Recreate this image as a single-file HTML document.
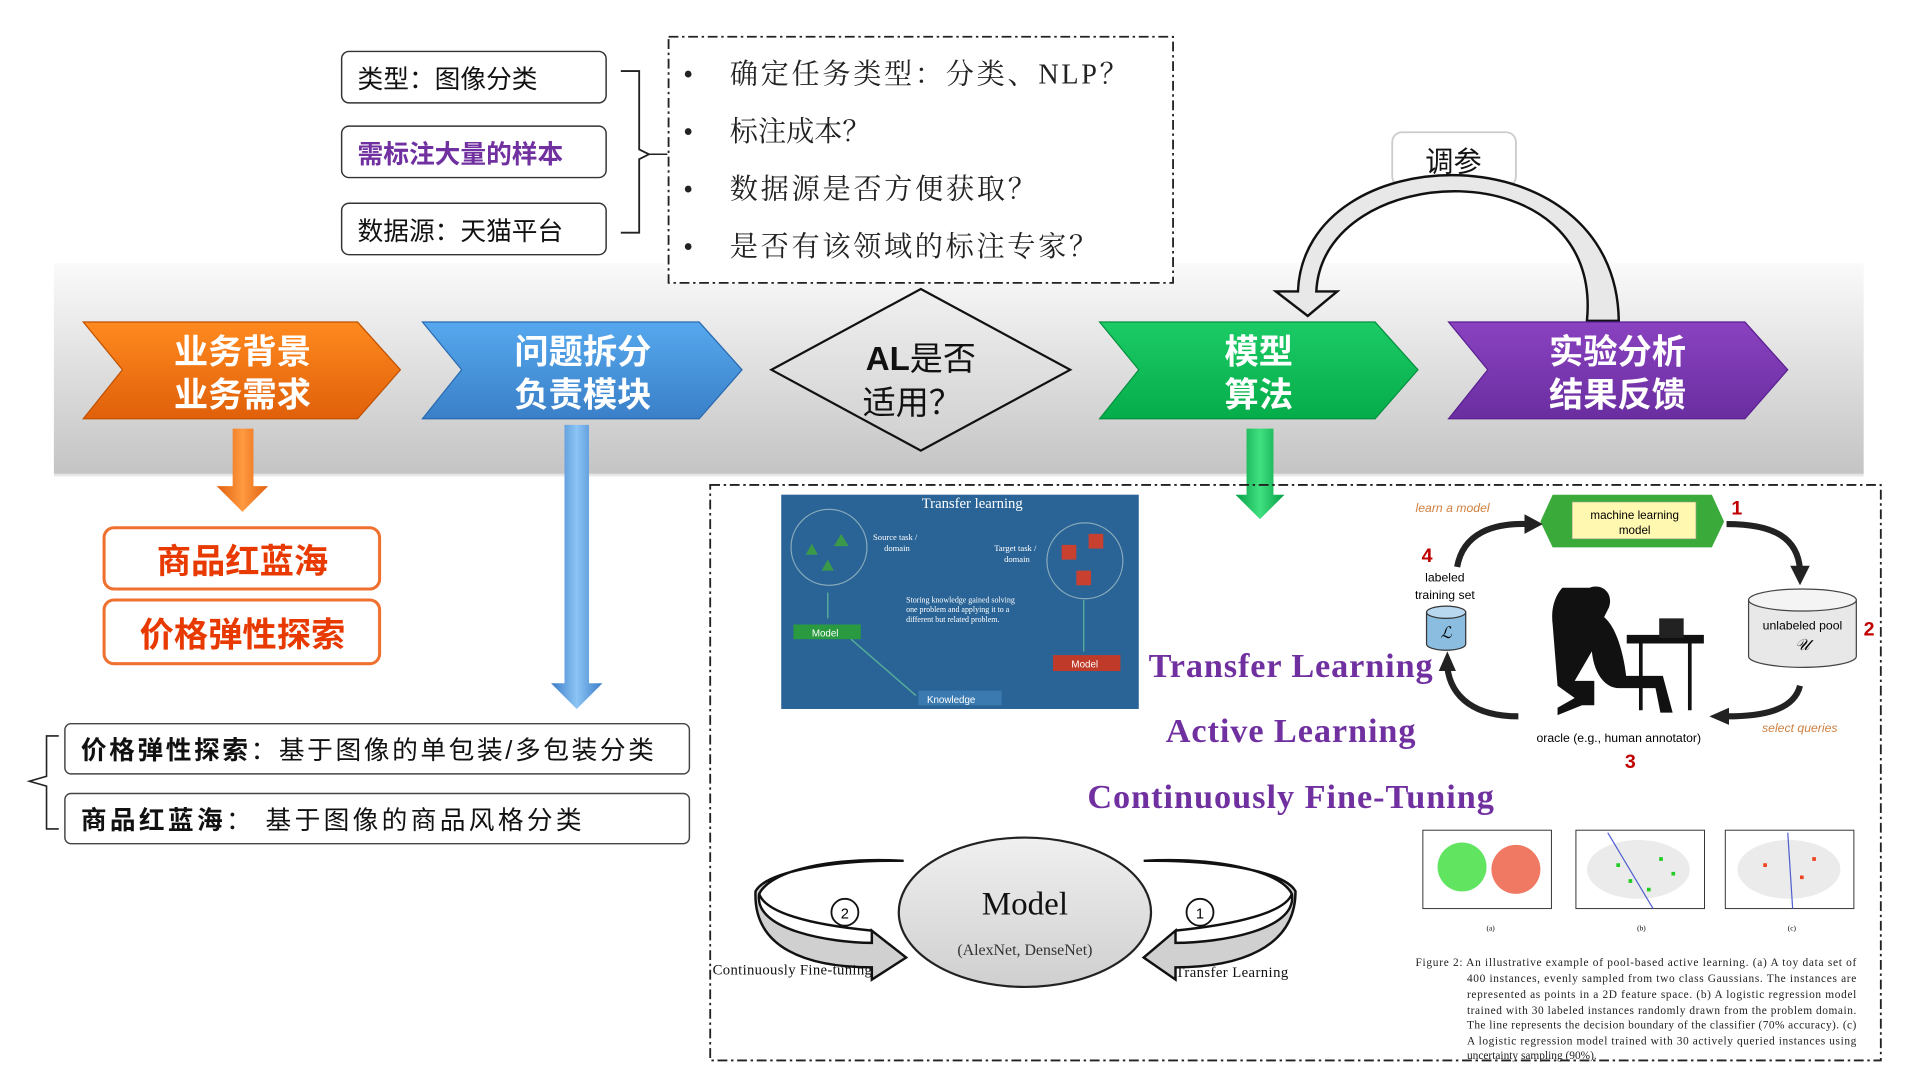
<!DOCTYPE html>
<html><head><meta charset="utf-8"><style>html,body{margin:0;padding:0;background:#fff;width:1920px;height:1080px;overflow:hidden}
svg{display:block}
.cn{font-family:"Liberation Sans","Noto Sans CJK SC",sans-serif}
.sr{font-family:"Liberation Serif","Noto Serif CJK SC",serif}
</style></head><body>
<svg width="1920" height="1080" viewBox="0 0 1568 882" preserveAspectRatio="none" xmlns="http://www.w3.org/2000/svg">
<defs>
<linearGradient id="band" x1="0" y1="0" x2="0" y2="1"><stop offset="0" stop-color="#fafafa"/><stop offset="1" stop-color="#c4c4c4"/></linearGradient>
<linearGradient id="or" x1="0" y1="0" x2="0" y2="1"><stop offset="0" stop-color="#ff8a1f"/><stop offset="1" stop-color="#e0600a"/></linearGradient>
<linearGradient id="bl" x1="0" y1="0" x2="0" y2="1"><stop offset="0" stop-color="#56a8ee"/><stop offset="1" stop-color="#3a80c8"/></linearGradient>
<linearGradient id="gr" x1="0" y1="0" x2="0" y2="1"><stop offset="0" stop-color="#1ccb66"/><stop offset="1" stop-color="#05ad4a"/></linearGradient>
<linearGradient id="pu" x1="0" y1="0" x2="0" y2="1"><stop offset="0" stop-color="#8a42c0"/><stop offset="1" stop-color="#6a2ea0"/></linearGradient>
<linearGradient id="dm" x1="0" y1="0" x2="0" y2="1"><stop offset="0" stop-color="#f0f0f0"/><stop offset="1" stop-color="#cfcfcf"/></linearGradient>
<linearGradient id="bar" x1="0" y1="0" x2="1" y2="0"><stop offset="0" stop-color="#3a7cc8"/><stop offset=".5" stop-color="#8cc4f4"/><stop offset="1" stop-color="#3a7cc8"/></linearGradient>
<linearGradient id="ob" x1="0" y1="0" x2="1" y2="0"><stop offset="0" stop-color="#e06010"/><stop offset=".5" stop-color="#ff9a40"/><stop offset="1" stop-color="#e06010"/></linearGradient>
<linearGradient id="gb" x1="0" y1="0" x2="1" y2="0"><stop offset="0" stop-color="#05a045"/><stop offset=".5" stop-color="#40e080"/><stop offset="1" stop-color="#05a045"/></linearGradient>
</defs>
<rect width="1568" height="882" fill="#fff"/>
<rect x="44" y="215" width="1478" height="172" fill="url(#band)"/>
<line x1="44" y1="388" x2="1522" y2="388" stroke="#e6e6e6" stroke-width="2"/>
<g class="cn" font-size="21">
<rect x="279" y="42" width="216" height="42" rx="6" fill="#fff" stroke="#333" stroke-width="1.2"/>
<text x="292" y="72" fill="#111">类型：图像分类</text>
<rect x="279" y="103" width="216" height="42" rx="6" fill="#fff" stroke="#333" stroke-width="1.2"/>
<text x="292" y="133" fill="#7030a0" font-weight="bold">需标注大量的样本</text>
<rect x="279" y="166" width="216" height="42" rx="6" fill="#fff" stroke="#333" stroke-width="1.2"/>
<text x="292" y="196" fill="#111">数据源：天猫平台</text>
</g>
<path d="M507 58 H522 V122 L530 126 L522 130 V190 H507" fill="none" stroke="#222" stroke-width="1.5"/>
<path d="M530 126 H545" stroke="#222" stroke-width="1.2"/>
<rect x="546" y="30" width="412" height="201" fill="#fff" stroke="#222" stroke-width="1.5" stroke-dasharray="8,3,2,3"/>
<g class="sr" font-size="23" fill="#222">
<text x="558" y="68">•</text><text x="596" y="68" textLength="325">确定任务类型：分类、NLP？</text>
<text x="558" y="115">•</text><text x="596" y="115">标注成本？</text>
<text x="558" y="162">•</text><text x="596" y="162" textLength="250">数据源是否方便获取？</text>
<text x="558" y="209">•</text><text x="596" y="209" textLength="300">是否有该领域的标注专家？</text>
</g>
<rect x="1137" y="108" width="101" height="44" rx="8" fill="#fff" stroke="#ccc" stroke-width="1.5"/>
<text class="cn" x="1187" y="140" font-size="23" text-anchor="middle" fill="#111">调参</text>
<path d="M1296 262 C1310 120 1080 130 1075 238 L1092 238 L1068 258 L1042 238 L1060 238 C1065 110 1320 105 1322 262 Z" fill="#e8e8e8" stroke="#111" stroke-width="2"/>
<g stroke-width="1">
<path d="M68 263 H292 L327 302 L292 342 H68 L100 302 Z" fill="url(#or)" stroke="#c05000"/>
<path d="M345 263 H571 L606 302 L571 342 H345 L377 302 Z" fill="url(#bl)" stroke="#2a6ab0"/>
<path d="M752 236 L874 302 L752 368 L630 302 Z" fill="url(#dm)" stroke="#111" stroke-width="1.8"/>
<path d="M898 263 H1123 L1158 302 L1123 342 H898 L930 302 Z" fill="url(#gr)" stroke="#059040"/>
<path d="M1183 263 H1425 L1460 302 L1425 342 H1183 L1215 302 Z" fill="url(#pu)" stroke="#5a2090"/>
</g>
<g class="cn" font-weight="bold" font-size="28" fill="#fff" text-anchor="middle">
<text x="198" y="297">业务背景</text><text x="198" y="332">业务需求</text>
<text x="476" y="297">问题拆分</text><text x="476" y="332">负责模块</text>
<text x="1028" y="297">模型</text><text x="1028" y="332">算法</text>
<text x="1321" y="297">实验分析</text><text x="1321" y="332">结果反馈</text>
</g>
<text class="cn" x="752" y="302" font-size="27" text-anchor="middle" fill="#111"><tspan font-weight="bold">AL</tspan>是否</text>
<text class="cn" x="745" y="338" font-size="27" text-anchor="middle" fill="#111">适用？</text>
<path d="M190 350 H207 V397 H219 L198 418 L177 397 H190 Z" fill="url(#ob)"/>
<path d="M461 347 H481 V558 H492 L471 579 L450 558 H461 Z" fill="url(#bar)"/>
<path d="M1018 350 H1040 V404 H1049 L1029 424 L1009 404 H1018 Z" fill="url(#gb)"/>
<g class="cn" font-weight="bold" font-size="28" fill="#e83a00" text-anchor="middle">
<rect x="85" y="431" width="225" height="50" rx="8" fill="#fff" stroke="#f07030" stroke-width="2.5"/>
<text x="198" y="468">商品红蓝海</text>
<rect x="85" y="490" width="225" height="52" rx="8" fill="#fff" stroke="#f07030" stroke-width="2.5"/>
<text x="198" y="528">价格弹性探索</text>
</g>
<path d="M48 601 H38 V634 L24 638 L38 642 V677 H48" fill="none" stroke="#222" stroke-width="1.3"/>
<rect x="53" y="591" width="510" height="41" rx="5" fill="#fff" stroke="#444" stroke-width="1.2"/>
<rect x="53" y="648" width="510" height="41" rx="5" fill="#fff" stroke="#444" stroke-width="1.2"/>
<g class="cn" font-size="21" fill="#111">
<text x="66" y="620" textLength="468"><tspan font-weight="bold">价格弹性探索</tspan>：基于图像的单包装/多包装分类</text>
<text x="66" y="677" textLength="409"><tspan font-weight="bold">商品红蓝海</tspan>：   基于图像的商品风格分类</text>
</g>
<rect x="580" y="396" width="956" height="470" fill="none" stroke="#222" stroke-width="1.5" stroke-dasharray="8,3,2,3"/>
<rect x="638" y="404" width="292" height="175" fill="#2a6496"/>
<g font-family="Liberation Serif,serif" fill="#fff">
<text x="794" y="415" font-size="12" text-anchor="middle">Transfer learning</text>
<text x="713" y="441" font-size="7">Source task /</text><text x="722" y="450" font-size="7">domain</text>
<text x="812" y="450" font-size="7">Target task /</text><text x="820" y="459" font-size="7">domain</text>
<text x="740" y="492" font-size="6.5">Storing knowledge gained solving</text>
<text x="740" y="500" font-size="6.5">one problem and applying it to a</text>
<text x="740" y="508" font-size="6.5">different but related problem.</text>
</g>
<circle cx="677" cy="447" r="31" fill="none" stroke="#8ab" stroke-width="1"/>
<circle cx="886" cy="458" r="31" fill="none" stroke="#8ab" stroke-width="1"/>
<path d="M658 453l5-9 5 9z M681 446l6-10 6 10z M671 466l5-9 5 9z" fill="#3a9a4a"/>
<rect x="867" y="445" width="12" height="12" fill="#c84030"/><rect x="889" y="436" width="12" height="12" fill="#c84030"/><rect x="879" y="466" width="12" height="12" fill="#c84030"/>
<rect x="648" y="510" width="55" height="12" fill="#2a9a40"/><text x="663" y="520" font-size="8" fill="#fff" font-family="Liberation Sans,sans-serif">Model</text>
<rect x="860" y="535" width="55" height="13" fill="#c03a2a"/><text x="875" y="545" font-size="8" fill="#fff" font-family="Liberation Sans,sans-serif">Model</text>
<rect x="750" y="564" width="68" height="12" fill="#3a7ab0"/><text x="757" y="574" font-size="8" fill="#fff" font-family="Liberation Sans,sans-serif">Knowledge</text>
<path d="M676 484 V505 M695 522 L748 568 M885 532 V490" stroke="#5a9" stroke-width="1.2"/>
<g class="sr" font-weight="bold" fill="#7030a0" font-size="28">
<text x="938" y="553" textLength="232">Transfer Learning</text>
<text x="952" y="606" textLength="204">Active Learning</text>
<text x="888" y="660" textLength="332">Continuously Fine-Tuning</text>
</g>
<g font-family="Liberation Sans,sans-serif">
<text x="1156" y="418" font-size="10" font-style="italic" fill="#d08040">learn a model</text>
<path d="M1268 404 H1398 L1408 426 L1398 447 H1268 L1258 426 Z" fill="#3aaa3a"/>
<rect x="1284" y="410" width="101" height="30" fill="#fff8b0" stroke="#aa9" stroke-width=".5"/>
<text x="1335" y="424" font-size="9.5" text-anchor="middle">machine learning</text><text x="1335" y="436" font-size="9.5" text-anchor="middle">model</text>
<text x="1414" y="420" font-size="16" font-weight="bold" fill="#c00000">1</text>
<text x="1161" y="459" font-size="16" font-weight="bold" fill="#c00000">4</text>
<text x="1522" y="519" font-size="16" font-weight="bold" fill="#c00000">2</text>
<text x="1327" y="627" font-size="16" font-weight="bold" fill="#c00000">3</text>
<text x="1180" y="475" font-size="10" text-anchor="middle">labeled</text><text x="1180" y="489" font-size="10" text-anchor="middle">training set</text>
<path d="M1165 500 v26 a16 5 0 0 0 32 0 v-26" fill="#8bbde0" stroke="#333"/><ellipse cx="1181" cy="500" rx="16" ry="5" fill="#b8d8f0" stroke="#333"/>
<text x="1181" y="521" font-size="13" font-style="italic" text-anchor="middle" font-family="Liberation Serif,serif">ℒ</text>
<path d="M1428 490 v46 a44 9 0 0 0 88 0 v-46" fill="#e8e8e8" stroke="#444"/><ellipse cx="1472" cy="490" rx="44" ry="9" fill="#f4f4f4" stroke="#444"/>
<text x="1472" y="514" font-size="10" text-anchor="middle">unlabeled pool</text><text x="1472" y="531" font-size="13" font-style="italic" text-anchor="middle" font-family="Liberation Serif,serif">𝒰</text>
<text x="1322" y="606" font-size="10" text-anchor="middle">oracle (e.g., human annotator)</text>
<text x="1439" y="598" font-size="10" font-style="italic" fill="#d08040">select queries</text>
<g fill="none" stroke="#222" stroke-width="5">
<path d="M1190 463 C1195 435 1220 427 1248 428"/><path d="M1410 428 C1450 428 1468 440 1470 465"/>
<path d="M1470 560 C1465 580 1440 585 1410 585"/><path d="M1240 585 C1205 585 1185 570 1182 545"/>
</g>
<path d="M1245 420 L1260 428 L1245 436Z M1462 462 L1470 478 L1478 462Z M1412 578 L1396 585 L1412 592Z M1175 548 L1182 532 L1189 548Z" fill="#222"/>
<path d="M1298 480 c10 -4 20 4 16 16 l-4 8 c10 8 16 30 18 48 l30 0 l8 30 l-10 0 l-4 -20 l-30 0 c-10 0 -20 -10 -22 -30 l-14 24 l16 0 l0 20 l-10 0 l-20 8 l0 -6 l14 -8 l-14 -10 l-4 -50 c-2 -16 4 -26 8 -30z" fill="#111"/>
<path d="M1330 520 h60 v4 h-60z M1380 524 v56 M1340 524 v56" stroke="#111" stroke-width="3" fill="#111"/>
<rect x="1355" y="505" width="20" height="16" fill="#222"/>
</g>
<g font-family="Liberation Serif,serif" font-size="6">
<rect x="1162" y="678" width="105" height="64" fill="#fff" stroke="#333" stroke-width=".8"/>
<rect x="1287" y="678" width="105" height="64" fill="#fff" stroke="#333" stroke-width=".8"/>
<rect x="1409" y="678" width="105" height="64" fill="#fff" stroke="#333" stroke-width=".8"/>
<text x="1214" y="760">(a)</text><text x="1337" y="760">(b)</text><text x="1460" y="760">(c)</text>
<ellipse cx="1194" cy="708" rx="20" ry="20" fill="#2cdc2c" opacity=".75"/>
<ellipse cx="1238" cy="710" rx="20" ry="20" fill="#e84020" opacity=".7"/>
<ellipse cx="1338" cy="710" rx="42" ry="24" fill="#e6e6e6" opacity=".8"/>
<ellipse cx="1461" cy="710" rx="42" ry="24" fill="#e6e6e6" opacity=".8"/>
<path d="M1313 680 L1350 742 M1460 680 L1464 742" stroke="#5060d0" stroke-width="1"/>
<path d="M1320 705h3v3h-3z M1330 718h3v3h-3z M1355 700h3v3h-3z M1365 712h3v3h-3z M1345 725h3v3h-3z" fill="#2c2"/>
<path d="M1440 705h3v3h-3z M1470 715h3v3h-3z M1480 700h3v3h-3z" fill="#e42"/>
</g>
<g font-family="Liberation Serif,serif" font-size="9.3" fill="#222">
<text x="1156" y="789" textLength="360">Figure 2:  An illustrative example of pool-based active learning.  (a) A toy data set of</text>
<text x="1198" y="802" textLength="318">400 instances, evenly sampled from two class Gaussians.  The instances are</text>
<text x="1198" y="815" textLength="318">represented as points in a 2D feature space.  (b) A logistic regression model</text>
<text x="1198" y="828" textLength="318">trained with 30 labeled instances randomly drawn from the problem domain.</text>
<text x="1198" y="840" textLength="318">The line represents the decision boundary of the classifier (70% accuracy). (c)</text>
<text x="1198" y="853" textLength="318">A logistic regression model trained with 30 actively queried instances using</text>
<text x="1198" y="865">uncertainty sampling (90%).</text>
</g>
<path d="M738 703 C680 700 630 710 620 730 C615 760 680 770 712 770 L712 760 L740 782 L712 800 L712 790 C660 790 615 775 617 728 C625 712 680 702 738 703 Z" fill="#d0d0d0" stroke="#111" stroke-width="2"/>
<path d="M620 730 C625 745 660 755 712 760" fill="none" stroke="#111" stroke-width="2"/>
<path d="M934 703 C990 700 1045 710 1055 730 C1060 760 995 770 960 770 L960 760 L934 782 L960 800 L960 790 C1010 790 1058 775 1058 728 C1050 712 995 702 934 703 Z" fill="#d0d0d0" stroke="#111" stroke-width="2"/>
<path d="M1055 730 C1050 745 1010 755 960 760" fill="none" stroke="#111" stroke-width="2"/>
<ellipse cx="837" cy="745" rx="103" ry="61" fill="url(#dm)" stroke="#222" stroke-width="1.8"/>
<text x="837" y="747" font-family="Liberation Serif,serif" font-size="27" text-anchor="middle" fill="#111">Model</text>
<text x="837" y="780" font-family="Liberation Serif,serif" font-size="13" text-anchor="middle" fill="#333">(AlexNet, DenseNet)</text>
<circle cx="690" cy="745" r="11" fill="#fff" stroke="#111" stroke-width="1.5"/><text x="690" y="750" font-size="12" text-anchor="middle" font-family="Liberation Sans,sans-serif">2</text>
<circle cx="980" cy="745" r="11" fill="#fff" stroke="#111" stroke-width="1.5"/><text x="980" y="750" font-size="12" text-anchor="middle" font-family="Liberation Sans,sans-serif">1</text>
<text x="582" y="796" font-family="Liberation Serif,serif" font-size="12" fill="#111" textLength="130">Continuously Fine-tuning</text>
<text x="960" y="798" font-family="Liberation Serif,serif" font-size="12" fill="#111" textLength="92">Transfer Learning</text>
</svg>
</body></html>
